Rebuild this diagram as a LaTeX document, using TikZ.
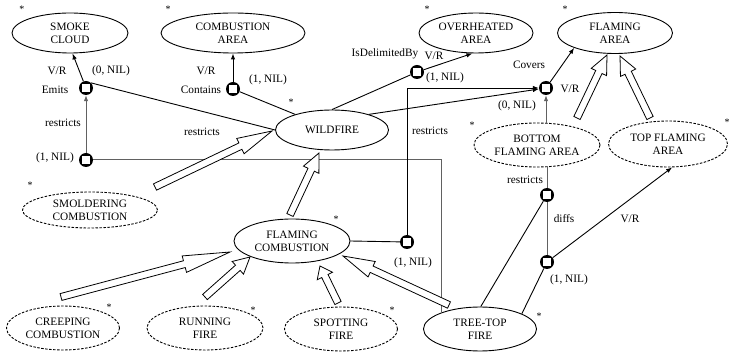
\documentclass[tikz,border=0pt]{standalone}
\usepackage{fontspec}
\setmainfont{Liberation Serif}
\usetikzlibrary{shapes.geometric,calc,arrows.meta}
\newcommand\inharrow[3][0.27]{%
  \path #2 coordinate (ht);
  \path #3 coordinate (hp);
  \coordinate (hb) at ($(hp)!#1!(ht)$);
  \filldraw[fill=white,draw=black,line width=0.8pt,line join=miter]
    ($(ht)!3.5pt!90:(hp)$) -- ($(hb)!3.5pt!90:(hp)$) -- ($(hb)!8.5pt!90:(hp)$) -- (hp)
    -- ($(hb)!8.5pt!-90:(hp)$) -- ($(hb)!3.5pt!-90:(hp)$) -- ($(ht)!3.5pt!-90:(hp)$) -- cycle;
}
\tikzset{
  every node/.style={font=\fontsize{11.3}{13}\selectfont},
  ent/.style={ellipse, draw, line width=0.9pt, inner sep=0pt, align=center},
  sub/.style={ent, dash pattern=on 2.5pt off 1.5pt},
  rel/.style={circle, fill=black, minimum size=14pt, inner sep=0pt,
    path picture={\fill[white] ($(path picture bounding box.center)+(-4.3pt,-4.3pt)$) rectangle ++(8.6pt,8.6pt);}},
  lbl/.style={inner sep=0pt},
  astk/.style={inner sep=0pt, font=\fontsize{10}{10}\selectfont},
  con/.style={line width=0.9pt, draw=black},
  gcon/.style={line width=1pt, draw=black!62},
  arr/.style={-{Latex[length=6pt,width=4.5pt]}},
}
\begin{document}
\begin{tikzpicture}[x=1pt,y=-1pt]
\useasboundingbox (0,0) rectangle (733,352);
% entities
\node[ent, minimum width=116pt, minimum height=40pt] (smoke) at (70,33) {SMOKE\\CLOUD};
\node[ent, minimum width=144pt, minimum height=40pt] (carea) at (233,33) {COMBUSTION\\AREA};
\node[ent, minimum width=114pt, minimum height=40pt] (oheat) at (476,33) {OVERHEATED\\AREA};
\node[ent, minimum width=115pt, minimum height=41pt] (farea) at (615,33) {FLAMING\\AREA};
\node[ent, minimum width=113pt, minimum height=40pt] (wild) at (332,130) {WILDFIRE};
\node[sub, minimum width=135pt, minimum height=36pt] (smold) at (90,210) {SMOLDERING\\COMBUSTION};
\node[sub, minimum width=126pt, minimum height=44pt] (bfa) at (537,145) {BOTTOM\\FLAMING AREA};
\node[sub, minimum width=119pt, minimum height=46pt] (tfa) at (668,144) {TOP FLAMING\\AREA};
\node[ent, minimum width=116pt, minimum height=44pt] (fc) at (292,241) {FLAMING\\COMBUSTION};
\node[sub, minimum width=113pt, minimum height=44pt] (creep) at (63,328) {CREEPING\\COMBUSTION};
\node[sub, minimum width=116pt, minimum height=44pt] (run) at (205,328) {RUNNING\\FIRE};
\node[sub, minimum width=113pt, minimum height=44pt] (spot) at (341,329) {SPOTTING\\FIRE};
\node[ent, minimum width=113pt, minimum height=44pt] (tree) at (480,329) {TREE-TOP\\FIRE};
% stars
\node[astk] (s1) at (22,9) {*};
\node[astk] (s2) at (168,9) {*};
\node[astk] (s3) at (427,9) {*};
\node[astk] (s4) at (565,9) {*};
\node[astk] (s5) at (291,102) {*};
\node[astk] (s6) at (30,185) {*};
\node[astk] (s7) at (472,125) {*};
\node[astk] (s8) at (727,122) {*};
\node[astk] (s9) at (336,219) {*};
\node[astk] (s10) at (109,307) {*};
\node[astk] (s11) at (253,310) {*};
\node[astk] (s12) at (392,310) {*};
\node[astk] (s13) at (539,316) {*};
% relation boxes (positions)
\coordinate (cEmits) at (86,88);
\coordinate (cContains) at (233,89);
\coordinate (cDelim) at (417,72);
\coordinate (cCovers) at (546,88);
\coordinate (cSmR) at (86,160);
\coordinate (cFC) at (407,242);
\coordinate (cBR) at (547,195);
\coordinate (cDiff) at (547,262);
\node[rel] (rEmits) at (cEmits) {};
\node[rel] (rContains) at (cContains) {};
\node[rel] (rDelim) at (cDelim) {};
\node[rel] (rCovers) at (cCovers) {};
\node[rel] (rSmR) at (cSmR) {};
\node[rel] (rFC) at (cFC) {};
\node[rel] (rBR) at (cBR) {};
\node[rel] (rDiff) at (cDiff) {};
% connectors
\draw[gcon] (rSmR) -| ($(tree)+(-39,-16)$);
\draw[gcon,arr] (rSmR) -- (rEmits);
\draw[con,arr] (rEmits) -- (smoke.277);
\draw[con] (rEmits.45) -- (wild.west);
\draw[con,arr] (rContains) -- (carea.south);
\draw[con] (rContains) -- (wild.157);
\draw[con] (wild.north) -- (rDelim);
\draw[con,arr] (rDelim) -- (oheat.260);
\draw[con,arr] (wild.23) -- (rCovers);
\draw[con,arr] (rFC) |- (rCovers);
\draw[con] (fc.east) -- (rFC);
\draw[con,arr] (rCovers) -- (farea.200);
\draw[gcon,arr] (bfa.north -| rCovers) -- (rCovers);
\draw[gcon] (rBR) -- (bfa.south -| rBR);
\draw[gcon] (rDiff) -- (rBR);
\draw[con] (tree.88) -- (rBR);
\draw[con] (tree.20) -- (rDiff);
\draw[con,arr] (rDiff) -- (tfa.280);
% inheritance arrows
\inharrow{($(smold)+(65,-23)$)}{($(wild)+(-60,1)$)}
\inharrow{($(fc)+(-2,-26)$)}{($(wild)+(-13,23)$)}
\inharrow{($(creep)+(-2,-31)$)}{($(fc)+(-62,11)$)}
\inharrow{($(run)+(0,-31)$)}{($(fc)+(-42,16)$)}
\inharrow{($(spot)+(-3,-26)$)}{($(fc)+(28,25)$)}
\inharrow{($(tree)+(-31,-24)$)}{($(fc)+(51,15)$)}
\inharrow{($(bfa)+(40,-27)$)}{($(farea)+(-8,22)$)}
\inharrow{($(tfa)+(-18,-26)$)}{($(farea)+(5,23)$)}
% labels
\node[lbl] (l1) at (57,71) {V/R};
\node[lbl] (l2) at (55,90) {Emits};
\node[lbl] (l3) at (111,71) {(0, NIL)};
\node[lbl] (l4) at (63,123) {restricts};
\node[lbl] (l5) at (55,158) {(1, NIL)};
\node[lbl] (l6) at (202,132) {restricts};
\node[lbl] (l7) at (206,71) {V/R};
\node[lbl] (l8) at (201,90) {Contains};
\node[lbl] (l9) at (268,80) {(1, NIL)};
\node[lbl] (l10) at (385,54) {IsDelimitedBy};
\node[lbl] (l11) at (434,56) {V/R};
\node[lbl] (l12) at (445,78) {(1, NIL)};
\node[lbl] (l13) at (430,131) {restricts};
\node[lbl] (l14) at (529,65) {Covers};
\node[lbl] (l15) at (570,89) {V/R};
\node[lbl] (l16) at (517,106) {(0, NIL)};
\node[lbl] (l17) at (525,180) {restricts};
\node[lbl] (l18) at (564,219) {diffs};
\node[lbl] (l19) at (630,219) {V/R};
\node[lbl] (l20) at (569,280) {(1, NIL)};
\node[lbl] (l21) at (413,263) {(1, NIL)};
\end{tikzpicture}
\end{document}
